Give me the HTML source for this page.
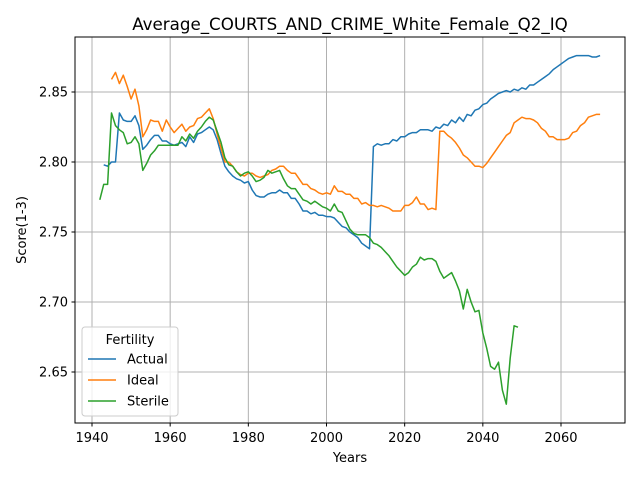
<!DOCTYPE html>
<html><head><meta charset="utf-8"><style>
body{margin:0;background:#fff;font-family:"Liberation Sans","DejaVu Sans",sans-serif}
svg text{font-family:"DejaVu Sans","Liberation Sans",sans-serif}
</style></head><body>
<svg id="chart" width="640" height="480" xmlns="http://www.w3.org/2000/svg">
<rect width="640" height="480" fill="#fff"/>
<text x="350" y="30" font-size="16.7" text-anchor="middle">Average_COURTS_AND_CRIME_White_Female_Q2_IQ</text>
<g id="grid"></g><g id="series"></g>
<rect x="75" y="37" width="550" height="386" fill="none" stroke="#000" stroke-width="1"/>
<g id="ticks"></g>
<text x="350" y="462" font-size="13" text-anchor="middle">Years</text>
<text x="26" y="230" font-size="13" text-anchor="middle" transform="rotate(-90 26 230)">Score(1-3)</text>
<g id="legend">
<rect x="82" y="327" width="96" height="89" rx="3" fill="#fff" fill-opacity="0.8" stroke="#ccc"/>
<text x="130" y="344" font-size="13" text-anchor="middle">Fertility</text>
</g>
</svg>
<script>
const xTicks=[1940,1960,1980,2000,2020,2040,2060];
const yTicks=[2.65,2.70,2.75,2.80,2.85];
const seriesNames=["Actual","Ideal","Sterile"];
const actualStart=1943;
const actualVals=[2.798,2.797,2.800,2.800,2.835,2.830,2.829,2.829,2.833,2.826,2.809,2.812,2.816,2.819,2.819,2.815,2.815,2.813,2.812,2.813,2.814,2.811,2.818,2.814,2.820,2.821,2.823,2.825,2.823,2.816,2.806,2.797,2.793,2.790,2.788,2.787,2.785,2.786,2.780,2.776,2.775,2.775,2.777,2.778,2.778,2.780,2.778,2.778,2.774,2.774,2.770,2.765,2.765,2.763,2.764,2.762,2.762,2.761,2.761,2.760,2.757,2.754,2.753,2.750,2.748,2.746,2.742,2.740,2.738,2.811,2.813,2.812,2.813,2.813,2.816,2.815,2.818,2.818,2.820,2.821,2.821,2.823,2.823,2.823,2.822,2.825,2.824,2.827,2.826,2.830,2.828,2.832,2.829,2.834,2.833,2.837,2.838,2.841,2.842,2.845,2.847,2.849,2.850,2.851,2.850,2.852,2.851,2.853,2.852,2.855,2.855,2.857,2.859,2.861,2.863,2.866,2.868,2.870,2.872,2.874,2.875,2.876,2.876,2.876,2.876,2.875,2.875,2.876];
const idealStart=1945;
const idealVals=[2.859,2.864,2.856,2.862,2.854,2.845,2.852,2.840,2.818,2.823,2.830,2.829,2.829,2.822,2.830,2.825,2.821,2.824,2.827,2.822,2.825,2.826,2.831,2.832,2.835,2.838,2.831,2.820,2.810,2.800,2.800,2.797,2.793,2.791,2.790,2.792,2.792,2.790,2.789,2.790,2.791,2.794,2.795,2.797,2.797,2.794,2.792,2.792,2.788,2.784,2.784,2.781,2.780,2.778,2.777,2.778,2.777,2.783,2.779,2.779,2.777,2.777,2.774,2.774,2.770,2.771,2.769,2.769,2.768,2.769,2.768,2.767,2.765,2.765,2.765,2.769,2.769,2.771,2.775,2.770,2.770,2.766,2.767,2.766,2.822,2.822,2.819,2.817,2.814,2.810,2.805,2.803,2.800,2.797,2.797,2.796,2.799,2.803,2.807,2.811,2.815,2.819,2.821,2.828,2.830,2.832,2.831,2.831,2.830,2.828,2.824,2.822,2.818,2.818,2.816,2.816,2.816,2.817,2.821,2.822,2.826,2.828,2.832,2.833,2.834,2.834];
const sterileStart=1942;
const sterileVals=[2.773,2.784,2.784,2.835,2.826,2.823,2.821,2.813,2.814,2.818,2.813,2.794,2.799,2.805,2.808,2.812,2.812,2.812,2.812,2.812,2.812,2.818,2.815,2.820,2.817,2.822,2.825,2.829,2.832,2.830,2.822,2.814,2.803,2.798,2.797,2.793,2.790,2.792,2.793,2.790,2.786,2.787,2.789,2.794,2.792,2.793,2.794,2.788,2.783,2.781,2.781,2.777,2.773,2.772,2.770,2.772,2.770,2.768,2.767,2.765,2.770,2.765,2.764,2.758,2.752,2.749,2.748,2.748,2.748,2.746,2.742,2.741,2.739,2.736,2.733,2.729,2.725,2.722,2.719,2.721,2.725,2.727,2.732,2.730,2.731,2.731,2.729,2.722,2.717,2.719,2.721,2.715,2.708,2.695,2.709,2.700,2.693,2.694,2.678,2.667,2.654,2.652,2.657,2.637,2.627,2.660,2.683,2.682];
const colors=["#1f77b4","#ff7f0e","#2ca02c"];
const NS="http://www.w3.org/2000/svg";
const X=y=>92+(y-1940)*(469/120);
const Y=v=>92+(2.85-v)*1400;
const grid=document.getElementById('grid'),ticks=document.getElementById('ticks'),ser=document.getElementById('series'),leg=document.getElementById('legend');
function mk(t,a,p){const e=document.createElementNS(NS,t);for(const k in a)e.setAttribute(k,a[k]);p.appendChild(e);return e;}
xTicks.forEach(t=>{const x=X(t);
 const g=mk('line',{x1:x,x2:x,y1:37,y2:423,stroke:'#b0b0b0','stroke-width':1},grid);
 
 
 mk('line',{x1:x,x2:x,y1:423,y2:426.5,stroke:'#000'},ticks);
 const l=mk('text',{x:x,y:442,'font-size':13,'text-anchor':'middle'},ticks);l.textContent=t;
 
 });
yTicks.forEach(t=>{const y=Y(t);
 const g=mk('line',{x1:75,x2:625,y1:y,y2:y,stroke:'#b0b0b0','stroke-width':1},grid);
 
 
 mk('line',{x1:71.5,x2:75,y1:y,y2:y,stroke:'#000'},ticks);
 const l=mk('text',{x:68,y:y+4.5,'font-size':13,'text-anchor':'end'},ticks);l.textContent=t.toFixed(2);
 
 });
[[actualStart,actualVals],[idealStart,idealVals],[sterileStart,sterileVals]].forEach((s,i)=>{
 const pts=s[1].map((v,j)=>X(s[0]+j).toFixed(1)+','+Y(v).toFixed(1)).join(' ');
 const p=mk('polyline',{points:pts,fill:'none',stroke:colors[i],'stroke-width':1.5,'stroke-linejoin':'round'},ser);
 
 
 const ly=359+i*21;
 const ll=mk('line',{x1:88,x2:116,y1:ly,y2:ly,stroke:colors[i],'stroke-width':1.5},leg);
 
 
 const lt=mk('text',{x:127,y:ly+4.5,'font-size':13},leg);lt.textContent=seriesNames[i];
 
 });
</script>
</body></html>
